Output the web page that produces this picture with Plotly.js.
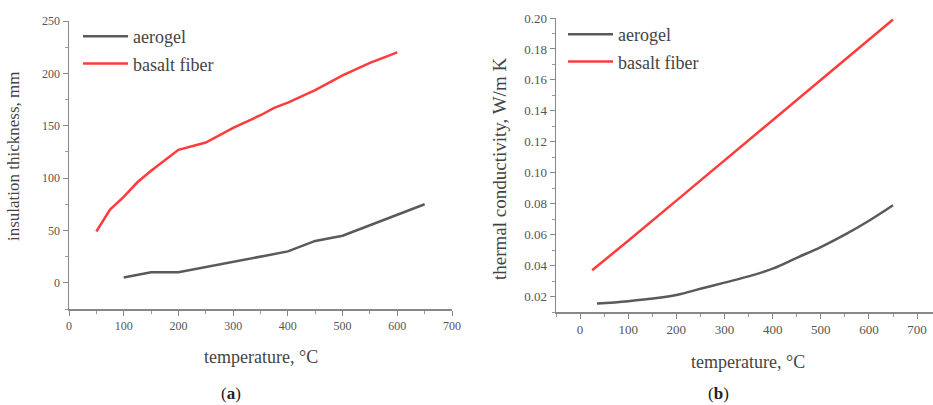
<!DOCTYPE html>
<html><head><meta charset="utf-8">
<script src="https://cdn.plot.ly/plotly-3.0.1.min.js"></script>
<style>
html,body{margin:0;padding:0;background:#fff}
</style>
</head><body><div id="chart" style="width:933px;height:405px"></div>
<script>
// (a) insulation thickness, mm
const aTempAerogel = [100, 150, 200, 250, 300, 350, 400, 450, 500, 550, 600, 650];
const aThickAerogel = [5, 10, 10, 15, 20, 25, 30, 40, 45, 55, 65, 75];
const aTempBasalt = [50, 75, 100, 125, 150, 200, 250, 300, 350, 375, 400, 450, 500, 550, 600];
const aThickBasalt = [49, 70, 82, 96, 107, 127, 134, 148, 160, 167, 172, 184, 198, 210, 220];
// (b) thermal conductivity, W/m K
const bTempAerogel = [35, 100, 200, 250, 300, 350, 400, 450, 500, 550, 600, 650];
const bCondAerogel = [0.0155, 0.017, 0.021, 0.025, 0.029, 0.033, 0.038, 0.045, 0.052, 0.060, 0.069, 0.079];
const bTempBasalt = [25, 100, 200, 300, 400, 500, 600, 650];
const bCondBasalt = [0.037, 0.056, 0.082, 0.108, 0.134, 0.160, 0.186, 0.199];

const seriesNames = ['aerogel', 'basalt fiber'];
const SERIF = '"Liberation Serif", "Times New Roman", serif';
const grayLine = '#5a5a5a', redLine = '#ff3c3c';

const traces = [
  {x: aTempAerogel, y: aThickAerogel, name: seriesNames[0], legendgroup: 'a1', mode: 'lines', line: {color: grayLine, width: 2.5}, xaxis: 'x', yaxis: 'y', legend: 'legend'},
  {x: aTempBasalt, y: aThickBasalt, name: seriesNames[1], legendgroup: 'a2', mode: 'lines', line: {color: redLine, width: 2.5}, xaxis: 'x', yaxis: 'y', legend: 'legend'},
  {x: bTempAerogel, y: bCondAerogel, name: seriesNames[0], legendgroup: 'b1', mode: 'lines', line: {color: grayLine, width: 2.5, shape: 'spline'}, xaxis: 'x2', yaxis: 'y2', legend: 'legend2'},
  {x: bTempBasalt, y: bCondBasalt, name: seriesNames[1], legendgroup: 'b2', mode: 'lines', line: {color: redLine, width: 2.5}, xaxis: 'x2', yaxis: 'y2', legend: 'legend2'}
];

function axis(size, extra) {
  return Object.assign({
    showgrid: false, zeroline: false, showline: true, linecolor: '#888', linewidth: 1.5,
    ticks: 'outside', ticklen: 5, tickwidth: 1, tickcolor: '#888',
    tickfont: {family: SERIF, size: size, color: '#555'}
  }, extra);
}
const minor = d => ({ticks: 'outside', ticklen: 3, tickcolor: '#999', dtick: d, showgrid: false});

const W = 933, H = 405;
const titleFont = s => ({family: SERIF, size: s, color: '#444'});
const ann = (text, px, py, size, extra) => Object.assign({
  text: text, xref: 'paper', yref: 'paper', x: px / W, y: (H - py) / H,
  xanchor: 'center', yanchor: 'middle', showarrow: false, font: titleFont(size)
}, extra || {});
const layout = {
  width: W, height: H,
  font: {family: SERIF, color: '#444'},
  margin: {l: 0, r: 0, t: 0, b: 0},
  paper_bgcolor: '#fff', plot_bgcolor: '#fff',
  xaxis: axis(12, {domain: [69 / W, 452 / W], range: [0, 700], dtick: 100, tick0: 0, anchor: 'y', minor: minor(50)}),
  yaxis: axis(12, {domain: [(H - 309) / H, (H - 21) / H], range: [-25, 250], dtick: 50, tick0: 0, anchor: 'x', minor: minor(25)}),
  xaxis2: axis(13, {domain: [556 / W, 1], range: [-50, 733], dtick: 100, tick0: 0, anchor: 'y2', minor: minor(50)}),
  yaxis2: axis(13, {domain: [(H - 312) / H, (H - 18) / H], range: [0.01, 0.2], dtick: 0.02, tick0: 0, tickformat: '.2f', anchor: 'x2', minor: minor(0.01)}),
  legend: {x: 78 / W, y: (H - 18) / H, xanchor: 'left', yanchor: 'top', bgcolor: 'rgba(0,0,0,0)', font: {family: SERIF, size: 18, color: '#444'}, tracegroupgap: 1, itemwidth: 45},
  legend2: {x: 563 / W, y: (H - 16) / H, xanchor: 'left', yanchor: 'top', bgcolor: 'rgba(0,0,0,0)', font: {family: SERIF, size: 18, color: '#444'}, tracegroupgap: 1, itemwidth: 45},
  annotations: [
    ann('insulation thickness, mm', 13, 156, 17, {textangle: -90}),
    ann('temperature, \u00b0C', 261, 357, 18),
    ann('(<b>a</b>)', 231, 393, 17, {font: {family: SERIF, size: 17, color: '#222'}}),
    ann('thermal conductivity, W/m K', 499, 169, 19, {textangle: -90}),
    ann('temperature, \u00b0C', 748, 362, 18),
    ann('(<b>b</b>)', 718, 393, 17, {font: {family: SERIF, size: 17, color: '#222'}})
  ]
};

Plotly.newPlot('chart', traces, layout, {staticPlot: true, displayModeBar: false});
</script>
</body></html>
